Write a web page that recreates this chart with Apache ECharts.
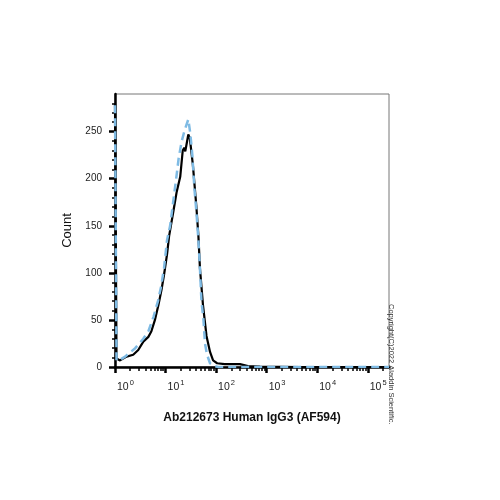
<!DOCTYPE html>
<html lang="en">
<head>
    <meta charset="UTF-8">
    <title>Ab212673 Human IgG3 (AF594)</title>
    <script src="https://cdn.jsdelivr.net/npm/echarts@6/dist/echarts.min.js"></script>
    <style>
        html, body { margin: 0; padding: 0; background: #fff; }
        #main { width: 500px; height: 500px; }
    </style>
</head>
<body>
<div id="main"></div>
<script type="application/javascript">
    // x values are decades (log10 of intensity), y values are counts
    var stainedCurve = [
        [0, 280], [0.03, 9], [0.10, 7], [0.23, 11], [0.36, 13], [0.46, 18], [0.56, 27],
        [0.66, 32], [0.72, 38], [0.79, 50], [0.86, 66], [0.92, 82], [0.97, 98], [1.03, 120],
        [1.07, 139], [1.16, 167], [1.22, 186], [1.29, 202], [1.34, 230], [1.37, 233],
        [1.39, 229], [1.42, 238], [1.45, 247], [1.48, 243], [1.54, 215], [1.61, 170],
        [1.65, 139], [1.68, 105], [1.74, 66], [1.81, 33], [1.88, 16], [1.94, 7], [2.02, 4],
        [2.17, 3], [2.47, 3], [2.63, 1], [2.87, 0.5], [3.66, 0], [5.42, 0]
    ];
    var isotypeCurve = [
        [0, 278], [0.03, 7], [0.08, 7], [0.20, 11], [0.40, 20], [0.56, 30], [0.66, 38],
        [0.76, 53], [0.85, 70], [0.91, 85], [0.97, 105], [1.03, 135], [1.09, 150],
        [1.15, 175], [1.21, 200], [1.26, 222], [1.32, 240], [1.38, 252], [1.45, 263],
        [1.49, 248], [1.53, 225], [1.57, 190], [1.61, 165], [1.65, 135], [1.68, 105],
        [1.71, 70], [1.75, 50], [1.78, 25], [1.82, 13], [1.88, 4], [1.96, 1], [2.04, 0],
        [3, 0], [4, 0], [5.42, 0]
    ];
    var decades = [0, 1, 2, 3, 4, 5];
    var countLabels = [0, 50, 100, 150, 200, 250];
    var xMax = 5.42;
    var yMax = 290;

    // minor ticks: 2..9 within every decade, and every 10 counts
    var decadeMinor = [];
    decades.forEach(function (d) {
        for (var k = 2; k <= 9; k++) {
            var v = d + Math.log10(k);
            if (v <= xMax) decadeMinor.push(v);
        }
    });
    var countMinor = [];
    for (var c = 10; c < yMax; c += 10) {
        if (c % 50 !== 0) countMinor.push(c);
    }

    var font = 'Liberation Sans, Arial, sans-serif';
    var myChart = echarts.init(document.getElementById('main'));

    var option = {
        backgroundColor: '#fff',
        animation: false,
        grid: {
            left: 115, top: 94, right: 111, bottom: 133,
            show: true, borderColor: '#777', borderWidth: 1
        },
        xAxis: [
            {
                type: 'value', min: 0, max: xMax,
                name: 'Ab212673 Human IgG3 (AF594)',
                nameLocation: 'middle', nameGap: 45,
                nameTextStyle: { fontFamily: font, fontSize: 12, fontWeight: 'bold', color: '#111' },
                axisLine: { show: true, onZero: false, lineStyle: { color: '#000', width: 2.5 } },
                axisTick: { show: true, customValues: decades, length: 6, lineStyle: { color: '#000', width: 2.5 } },
                axisLabel: {
                    customValues: decades, margin: 12, align: 'left',
                    formatter: function (v) { return '{b|10}{s|' + v + '}'; },
                    rich: {
                        b: { fontFamily: font, fontSize: 10.5, color: '#222', padding: [0, 0, 0, 2] },
                        s: { fontFamily: font, fontSize: 7.5, color: '#222', verticalAlign: 'bottom', padding: [0, 0, 9, 1] }
                    }
                },
                splitLine: { show: false }
            },
            {
                type: 'value', min: 0, max: xMax, position: 'bottom',
                axisLine: { show: false, onZero: false },
                axisTick: { show: true, customValues: decadeMinor, length: 4, lineStyle: { color: '#000', width: 1.5 } },
                axisLabel: { show: false },
                splitLine: { show: false }
            }
        ],
        yAxis: [
            {
                type: 'value', min: 0, max: yMax,
                name: 'Count', nameLocation: 'middle', nameGap: 20, nameRotate: 90,
                nameTextStyle: { fontFamily: font, fontSize: 13, color: '#111' },
                axisLine: { show: true, onZero: false, lineStyle: { color: '#000', width: 2.5 } },
                axisTick: { show: true, customValues: countLabels, length: 6, lineStyle: { color: '#000', width: 2.5 } },
                axisLabel: { customValues: countLabels, margin: 13, fontFamily: font, fontSize: 10, color: '#222' },
                splitLine: { show: false }
            },
            {
                type: 'value', min: 0, max: yMax, position: 'left',
                axisLine: { show: false, onZero: false },
                axisTick: { show: true, customValues: countMinor, length: 3, lineStyle: { color: '#000', width: 1.5 } },
                axisLabel: { show: false },
                splitLine: { show: false }
            }
        ],
        series: [
            {
                name: 'stained', type: 'line', xAxisIndex: 0, yAxisIndex: 0,
                data: stainedCurve, showSymbol: false, symbol: 'none',
                lineStyle: { color: '#000', width: 2.2 }
            },
            {
                name: 'isotype', type: 'line', xAxisIndex: 0, yAxisIndex: 0,
                data: isotypeCurve, showSymbol: false, symbol: 'none',
                lineStyle: { color: '#7fbbe4', width: 2.5, type: [8, 5] }
            }
        ],
        graphic: [
            {
                type: 'text', x: 395, y: 304, rotation: -Math.PI / 2,
                style: { text: 'Copyright(C)2022 Aladdin Scientific.', fontFamily: font, fontSize: 7.5, fill: '#333' }
            }
        ]
    };

    myChart.setOption(option);
</script>
</body>
</html>
